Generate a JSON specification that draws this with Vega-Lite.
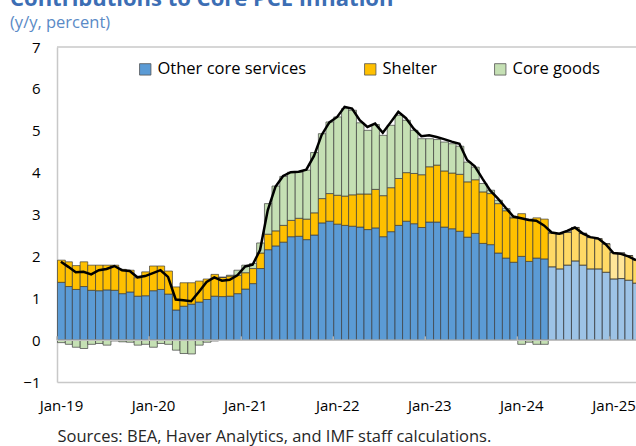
{
  "$schema": "https://vega.github.io/schema/vega-lite/v6.json",
  "width": 579,
  "height": 335,
  "autosize": {"type": "none"},
  "padding": {"left": 57, "top": 47, "right": 0, "bottom": 64},
  "background": "white",
  "config": {"font": "Open Sans", "view": {"stroke": null}},
  "title": {
    "text": "Contributions to Core PCE Inflation",
    "subtitle": "(y/y, percent)",
    "anchor": "start",
    "frame": "group",
    "dx": -47,
    "offset": 8,
    "fontSize": 22,
    "fontWeight": "bold",
    "color": "#3C6EB4",
    "subtitleFontSize": 16.5,
    "subtitleColor": "#5A8AC6",
    "subtitlePadding": 4,
    "font": "Open Sans",
    "subtitleFont": "Open Sans"
  },
  "data": {
    "format": {"parse": {"d": "date"}},
    "values": [
      {"d": "2019-01", "a": 1.38, "b": 0.53, "c": -0.06, "t": 1.87, "ph": "act"},
      {"d": "2019-02", "a": 1.28, "b": 0.59, "c": -0.10, "t": 1.75, "ph": "act"},
      {"d": "2019-03", "a": 1.21, "b": 0.57, "c": -0.17, "t": 1.62, "ph": "act"},
      {"d": "2019-04", "a": 1.28, "b": 0.59, "c": -0.20, "t": 1.63, "ph": "act"},
      {"d": "2019-05", "a": 1.19, "b": 0.60, "c": -0.10, "t": 1.57, "ph": "act"},
      {"d": "2019-06", "a": 1.18, "b": 0.61, "c": -0.08, "t": 1.67, "ph": "act"},
      {"d": "2019-07", "a": 1.20, "b": 0.59, "c": -0.12, "t": 1.70, "ph": "act"},
      {"d": "2019-08", "a": 1.19, "b": 0.60, "c": -0.02, "t": 1.77, "ph": "act"},
      {"d": "2019-09", "a": 1.11, "b": 0.58, "c": -0.04, "t": 1.67, "ph": "act"},
      {"d": "2019-10", "a": 1.15, "b": 0.52, "c": -0.05, "t": 1.65, "ph": "act"},
      {"d": "2019-11", "a": 1.05, "b": 0.44, "c": -0.12, "t": 1.50, "ph": "act"},
      {"d": "2019-12", "a": 1.06, "b": 0.57, "c": -0.10, "t": 1.53, "ph": "act"},
      {"d": "2020-01", "a": 1.18, "b": 0.59, "c": -0.17, "t": 1.60, "ph": "act"},
      {"d": "2020-02", "a": 1.21, "b": 0.56, "c": -0.08, "t": 1.67, "ph": "act"},
      {"d": "2020-03", "a": 1.10, "b": 0.55, "c": -0.10, "t": 1.51, "ph": "act"},
      {"d": "2020-04", "a": 0.72, "b": 0.55, "c": -0.24, "t": 0.97, "ph": "act"},
      {"d": "2020-05", "a": 0.81, "b": 0.56, "c": -0.32, "t": 0.95, "ph": "act"},
      {"d": "2020-06", "a": 0.86, "b": 0.51, "c": -0.33, "t": 0.93, "ph": "act"},
      {"d": "2020-07", "a": 0.91, "b": 0.50, "c": -0.12, "t": 1.15, "ph": "act"},
      {"d": "2020-08", "a": 0.97, "b": 0.49, "c": -0.05, "t": 1.39, "ph": "act"},
      {"d": "2020-09", "a": 1.05, "b": 0.52, "c": -0.02, "t": 1.50, "ph": "act"},
      {"d": "2020-10", "a": 1.04, "b": 0.46, "c": 0.00, "t": 1.42, "ph": "act"},
      {"d": "2020-11", "a": 1.05, "b": 0.48, "c": 0.02, "t": 1.44, "ph": "act"},
      {"d": "2020-12", "a": 1.11, "b": 0.44, "c": 0.12, "t": 1.55, "ph": "act"},
      {"d": "2021-01", "a": 1.22, "b": 0.39, "c": 0.18, "t": 1.76, "ph": "act"},
      {"d": "2021-02", "a": 1.35, "b": 0.36, "c": 0.12, "t": 1.80, "ph": "act"},
      {"d": "2021-03", "a": 1.71, "b": 0.37, "c": 0.24, "t": 2.15, "ph": "act"},
      {"d": "2021-04", "a": 2.16, "b": 0.37, "c": 0.73, "t": 3.10, "ph": "act"},
      {"d": "2021-05", "a": 2.25, "b": 0.36, "c": 1.07, "t": 3.66, "ph": "act"},
      {"d": "2021-06", "a": 2.34, "b": 0.40, "c": 1.17, "t": 3.92, "ph": "act"},
      {"d": "2021-07", "a": 2.47, "b": 0.39, "c": 1.15, "t": 4.01, "ph": "act"},
      {"d": "2021-08", "a": 2.48, "b": 0.43, "c": 1.10, "t": 4.02, "ph": "act"},
      {"d": "2021-09", "a": 2.40, "b": 0.49, "c": 1.17, "t": 4.07, "ph": "act"},
      {"d": "2021-10", "a": 2.51, "b": 0.53, "c": 1.44, "t": 4.40, "ph": "act"},
      {"d": "2021-11", "a": 2.80, "b": 0.58, "c": 1.55, "t": 4.90, "ph": "act"},
      {"d": "2021-12", "a": 2.84, "b": 0.66, "c": 1.71, "t": 5.20, "ph": "act"},
      {"d": "2022-01", "a": 2.77, "b": 0.69, "c": 1.87, "t": 5.33, "ph": "act"},
      {"d": "2022-02", "a": 2.74, "b": 0.70, "c": 2.09, "t": 5.57, "ph": "act"},
      {"d": "2022-03", "a": 2.72, "b": 0.75, "c": 2.02, "t": 5.53, "ph": "act"},
      {"d": "2022-04", "a": 2.70, "b": 0.79, "c": 1.70, "t": 5.25, "ph": "act"},
      {"d": "2022-05", "a": 2.64, "b": 0.85, "c": 1.52, "t": 5.09, "ph": "act"},
      {"d": "2022-06", "a": 2.68, "b": 0.92, "c": 1.55, "t": 5.17, "ph": "act"},
      {"d": "2022-07", "a": 2.47, "b": 0.98, "c": 1.44, "t": 4.95, "ph": "act"},
      {"d": "2022-08", "a": 2.59, "b": 1.05, "c": 1.49, "t": 5.20, "ph": "act"},
      {"d": "2022-09", "a": 2.74, "b": 1.12, "c": 1.51, "t": 5.45, "ph": "act"},
      {"d": "2022-10", "a": 2.84, "b": 1.16, "c": 1.25, "t": 5.30, "ph": "act"},
      {"d": "2022-11", "a": 2.78, "b": 1.20, "c": 1.03, "t": 5.05, "ph": "act"},
      {"d": "2022-12", "a": 2.69, "b": 1.26, "c": 0.86, "t": 4.87, "ph": "act"},
      {"d": "2023-01", "a": 2.82, "b": 1.32, "c": 0.67, "t": 4.89, "ph": "act"},
      {"d": "2023-02", "a": 2.82, "b": 1.36, "c": 0.61, "t": 4.85, "ph": "act"},
      {"d": "2023-03", "a": 2.70, "b": 1.34, "c": 0.69, "t": 4.80, "ph": "act"},
      {"d": "2023-04", "a": 2.66, "b": 1.33, "c": 0.70, "t": 4.74, "ph": "act"},
      {"d": "2023-05", "a": 2.60, "b": 1.36, "c": 0.67, "t": 4.69, "ph": "act"},
      {"d": "2023-06", "a": 2.46, "b": 1.32, "c": 0.47, "t": 4.30, "ph": "act"},
      {"d": "2023-07", "a": 2.55, "b": 1.28, "c": 0.30, "t": 4.15, "ph": "act"},
      {"d": "2023-08", "a": 2.31, "b": 1.23, "c": 0.20, "t": 3.85, "ph": "act"},
      {"d": "2023-09", "a": 2.28, "b": 1.22, "c": 0.08, "t": 3.57, "ph": "act"},
      {"d": "2023-10", "a": 2.08, "b": 1.18, "c": 0.08, "t": 3.38, "ph": "act"},
      {"d": "2023-11", "a": 1.96, "b": 1.13, "c": 0.05, "t": 3.16, "ph": "act"},
      {"d": "2023-12", "a": 1.86, "b": 1.06, "c": 0.02, "t": 2.95, "ph": "act"},
      {"d": "2024-01", "a": 2.00, "b": 1.02, "c": -0.10, "t": 2.91, "ph": "act"},
      {"d": "2024-02", "a": 1.88, "b": 1.01, "c": -0.05, "t": 2.87, "ph": "act"},
      {"d": "2024-03", "a": 1.96, "b": 0.96, "c": -0.10, "t": 2.85, "ph": "act"},
      {"d": "2024-04", "a": 1.94, "b": 0.95, "c": -0.10, "t": 2.74, "ph": "act"},
      {"d": "2024-05", "a": 1.75, "b": 0.81, "c": 0, "t": 2.57, "ph": "prj"},
      {"d": "2024-06", "a": 1.70, "b": 0.84, "c": 0, "t": 2.54, "ph": "prj"},
      {"d": "2024-07", "a": 1.79, "b": 0.79, "c": 0, "t": 2.61, "ph": "prj"},
      {"d": "2024-08", "a": 1.89, "b": 0.80, "c": 0, "t": 2.69, "ph": "prj"},
      {"d": "2024-09", "a": 1.79, "b": 0.76, "c": 0, "t": 2.55, "ph": "prj"},
      {"d": "2024-10", "a": 1.70, "b": 0.75, "c": 0, "t": 2.46, "ph": "prj"},
      {"d": "2024-11", "a": 1.70, "b": 0.72, "c": 0, "t": 2.43, "ph": "prj"},
      {"d": "2024-12", "a": 1.62, "b": 0.68, "c": 0, "t": 2.29, "ph": "prj"},
      {"d": "2025-01", "a": 1.46, "b": 0.63, "c": 0, "t": 2.08, "ph": "prj2"},
      {"d": "2025-02", "a": 1.47, "b": 0.61, "c": 0, "t": 2.06, "ph": "prj2"},
      {"d": "2025-03", "a": 1.43, "b": 0.59, "c": 0, "t": 2.00, "ph": "prj"},
      {"d": "2025-04", "a": 1.36, "b": 0.56, "c": 0, "t": 1.91, "ph": "prj"}
    ]
  },
  "layer": [
    {
      "transform": [{"fold": ["a", "b", "c"], "as": ["k", "v"]}],
      "mark": {"type": "bar", "binSpacing": 0, "stroke": "#3a3a3a", "strokeWidth": 0.8, "strokeOpacity": 0.85, "clip": true},
      "encoding": {
        "x": {
          "field": "d",
          "type": "temporal",
          "timeUnit": "utcyearmonth",
          "scale": {"type": "utc", "domain": [{"year": 2019, "month": 1, "date": 1, "utc": true}, {"year": 2025, "month": 4, "date": 16, "utc": true}]},
          "axis": {
            "values": [
              {"year": 2019, "month": 1, "date": 1, "utc": true},
              {"year": 2020, "month": 1, "date": 1, "utc": true},
              {"year": 2021, "month": 1, "date": 1, "utc": true},
              {"year": 2022, "month": 1, "date": 1, "utc": true},
              {"year": 2023, "month": 1, "date": 1, "utc": true},
              {"year": 2024, "month": 1, "date": 1, "utc": true},
              {"year": 2025, "month": 1, "date": 1, "utc": true}
            ],
            "format": "%b-%y",
            "labelOffset": 4,
            "ticks": false,
            "labelPadding": 16,
            "labelFontSize": 15,
            "labelColor": "black",
            "labelFlush": false,
            "labelOverlap": false,
            "domainColor": "#c8c8c8",
            "domainWidth": 1.5,
            "grid": false,
            "title": "Sources: BEA, Haver Analytics, and IMF staff calculations.",
            "titleAnchor": "start",
            "titleAlign": "left",
            "titleFontWeight": "normal",
            "titleFontSize": 16.5,
            "titlePadding": 15,
            "titleColor": "#262626"
          }
        },
        "y": {
          "field": "v",
          "type": "quantitative",
          "stack": "zero",
          "title": null,
          "scale": {"domain": [-1, 7], "nice": false},
          "axis": {
            "values": [-1, 0, 1, 2, 3, 4, 5, 6, 7],
            "ticks": false,
            "labelPadding": 17,
            "labelFontSize": 15,
            "labelColor": "black",
            "domainColor": "#c8c8c8",
            "domainWidth": 1.5,
            "grid": false
          }
        },
        "color": {
          "field": "k",
          "type": "nominal",
          "scale": {"domain": ["a", "b", "c"], "range": ["#5B9BD5", "#FFC000", "#C5E0B4"]},
          "legend": {
            "orient": "none",
            "legendX": 80,
            "legendY": 14,
            "direction": "horizontal",
            "title": null,
            "labelExpr": "datum.label == 'a' ? 'Other core services' : datum.label == 'b' ? 'Shelter' : 'Core goods'",
            "symbolType": "square",
            "symbolSize": 130,
            "symbolStrokeColor": "#555555",
            "symbolStrokeWidth": 0.8,
            "labelFontSize": 16.5,
            "labelColor": "black",
            "columnPadding": 55
          }
        },
        "order": {"field": "k", "sort": "ascending"},
        "fillOpacity": {
          "condition": [
            {"test": "datum.ph == 'prj2' && datum.k == 'b'", "value": 0.4},
            {"test": "datum.ph != 'act'", "value": 0.6}
          ],
          "value": 1
        }
      }
    },
    {
      "data": {"values": [{}]},
      "mark": {"type": "rule", "color": "#c0c0c0", "strokeWidth": 1.5},
      "encoding": {"y": {"datum": 0}}
    },
    {
      "data": {"values": [{}]},
      "mark": {"type": "rule", "color": "#c8c8c8", "strokeWidth": 1.5},
      "encoding": {"y": {"datum": 7}}
    },
    {
      "transform": [{"filter": "utcmonth(datum.d) == 0"}],
      "mark": {"type": "rule", "color": "#b0b0b0", "strokeWidth": 1.5},
      "encoding": {
        "x": {"field": "d", "type": "temporal", "timeUnit": "utcyearmonth", "bandPosition": 0},
        "y": {"datum": 0},
        "y2": {"datum": 0.09}
      }
    },
    {
      "mark": {"type": "line", "color": "black", "strokeWidth": 2.5, "clip": true},
      "encoding": {
        "x": {"field": "d", "type": "temporal", "timeUnit": "utcyearmonth", "bandPosition": 0.5},
        "y": {"field": "t", "type": "quantitative", "title": null}
      }
    }
  ]
}
